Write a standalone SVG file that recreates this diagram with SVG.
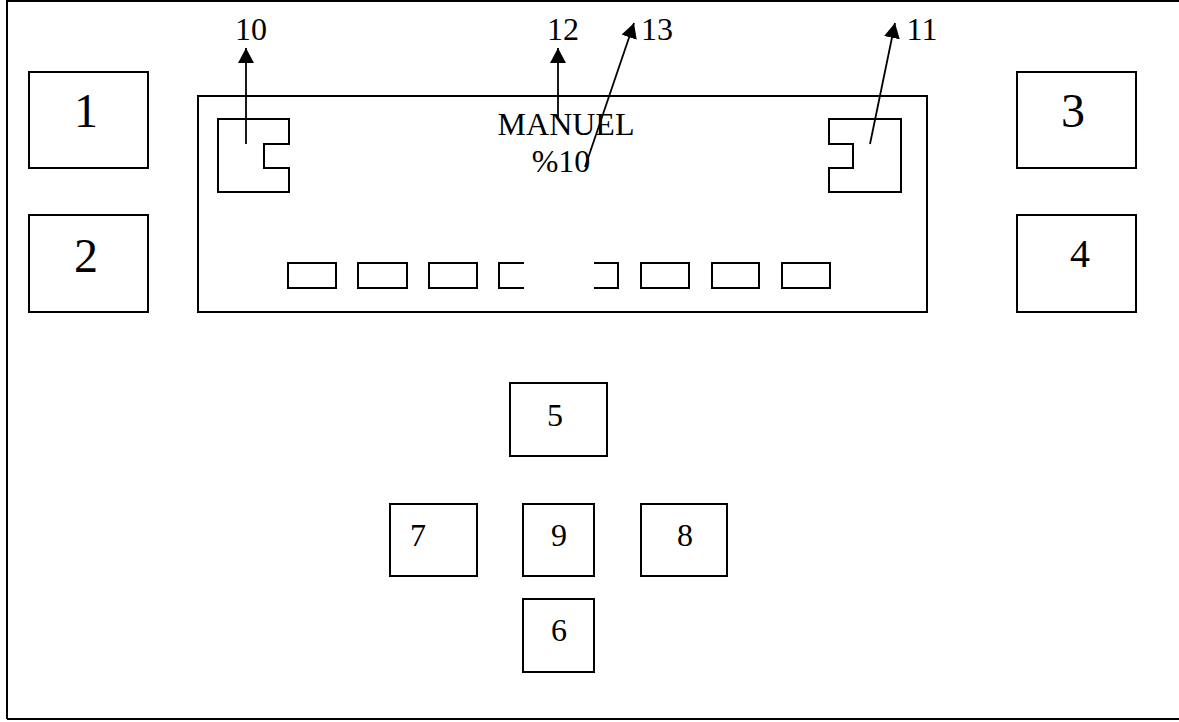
<svg xmlns="http://www.w3.org/2000/svg" width="1179" height="722" viewBox="0 0 1179 722">
  <style>
    .box { fill: none; stroke: #000; stroke-width: 2; }
    .ln { fill: none; stroke: #000; stroke-width: 1.8; }
    .t { font-family: "Liberation Serif", "Times New Roman", serif; fill: #000; text-anchor: middle; }
    .big { font-size: 48px; }
    .sm { font-size: 32px; }
  </style>
  <defs>
    <marker id="ah" viewBox="0 0 15 16" refX="15" refY="8" markerWidth="15" markerHeight="16" markerUnits="userSpaceOnUse" orient="auto">
      <path d="M0,0 L15,8 L0,16 Z" fill="#000"/>
    </marker>
  </defs>
  <rect width="1179" height="722" fill="#fff"/>
  <!-- outer frame -->
  <path class="box" d="M7,719 V1 H1185 M7,719 H1185"/>

  <g id="node-1"><rect class="box" x="29" y="72" width="119" height="96"/><text class="t big" x="86" y="127">1</text></g>
  <g id="node-2"><rect class="box" x="29" y="215" width="119" height="97"/><text class="t big" x="86" y="272">2</text></g>
  <g id="node-3"><rect class="box" x="1017" y="72" width="119" height="96"/><text class="t big" x="1073" y="127">3</text></g>
  <g id="node-4"><rect class="box" x="1017" y="215" width="119" height="97"/><text class="t" style="font-size:40px" x="1080" y="267">4</text></g>

  <g id="display">
    <rect class="box" x="198" y="96" width="729" height="216"/>
    <text class="t sm" x="566" y="135">MANUEL</text>
    <text class="t sm" x="561" y="172">%10</text>
  </g>
  <g id="node-10-shape"><path class="box" d="M218,119 H289 V144 H264 V168 H289 V192 H218 Z"/></g>
  <g id="node-11-shape"><path class="box" d="M829,119 H901 V192 H829 V168 H853 V144 H829 Z"/></g>

  <g id="segments">
    <rect class="box" x="288" y="263" width="48" height="25"/>
    <rect class="box" x="358" y="263" width="49" height="25"/>
    <rect class="box" x="429" y="263" width="48" height="25"/>
    <path class="box" d="M524,263 H499 V288 H524"/>
    <path class="box" d="M594,263 H618 V288 H594"/>
    <rect class="box" x="641" y="263" width="48" height="25"/>
    <rect class="box" x="712" y="263" width="47" height="25"/>
    <rect class="box" x="782" y="263" width="48" height="25"/>
  </g>

  <g id="node-5"><rect class="box" x="510" y="383" width="97" height="73"/><text class="t sm" x="555" y="426">5</text></g>
  <g id="node-7"><rect class="box" x="390" y="504" width="87" height="72"/><text class="t sm" x="418" y="546">7</text></g>
  <g id="node-9"><rect class="box" x="523" y="504" width="71" height="72"/><text class="t sm" x="559" y="546">9</text></g>
  <g id="node-8"><rect class="box" x="641" y="504" width="86" height="72"/><text class="t sm" x="685" y="546">8</text></g>
  <g id="node-6"><rect class="box" x="523" y="599" width="71" height="73"/><text class="t sm" x="559" y="641">6</text></g>

  <g id="connectors">
    <line class="ln" x1="246" y1="144" x2="246" y2="48" marker-end="url(#ah)"/>
    <line class="ln" x1="558" y1="117" x2="558" y2="48" marker-end="url(#ah)"/>
    <line class="ln" x1="585" y1="167" x2="634" y2="23" marker-end="url(#ah)"/>
    <line class="ln" x1="870" y1="144" x2="895" y2="23" marker-end="url(#ah)"/>
  </g>
  <g id="labels">
    <text class="t sm" x="251" y="40">10</text>
    <text class="t sm" x="563" y="40">12</text>
    <text class="t sm" x="657" y="40">13</text>
    <text class="t sm" x="922" y="40">11</text>
  </g>
</svg>
